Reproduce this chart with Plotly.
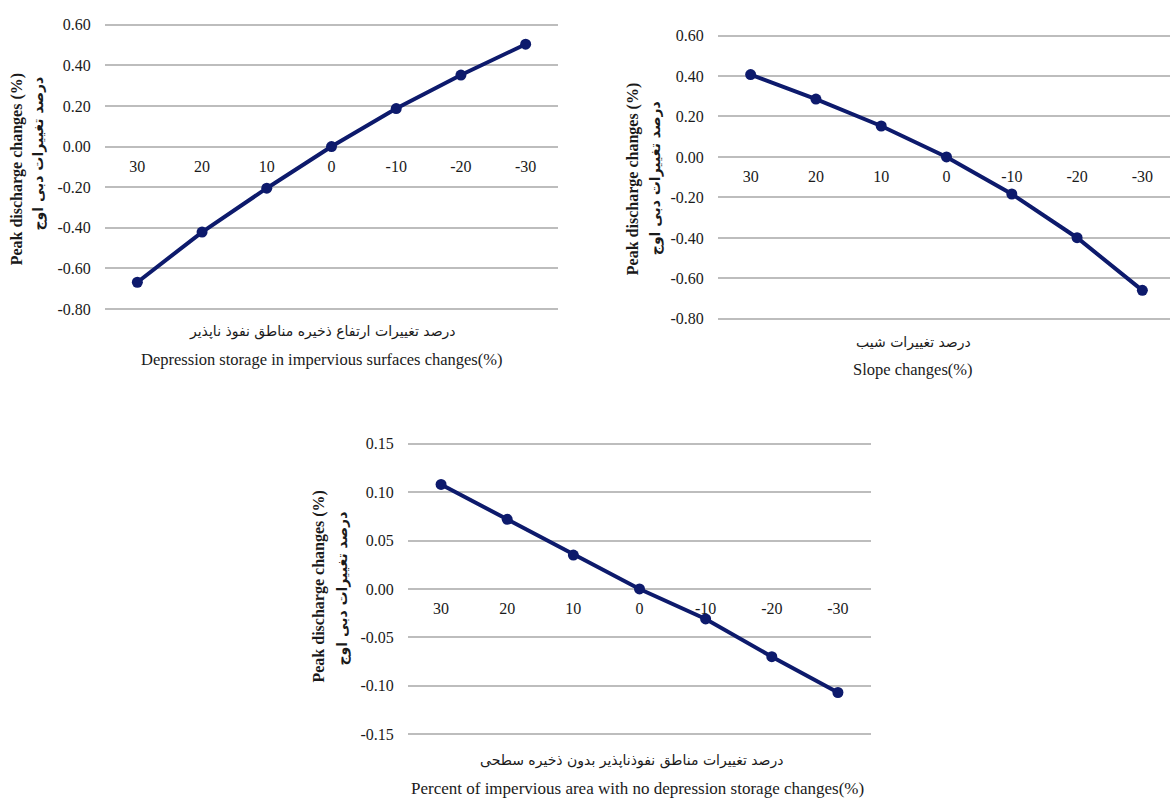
import plotly.graph_objects as go

# ---------------- data ----------------
categories = ["30", "20", "10", "0", "-10", "-20", "-30"]

depression_storage = [-0.668, -0.421, -0.205, 0.0, 0.187, 0.352, 0.504]
slope = [0.407, 0.286, 0.153, 0.0, -0.183, -0.399, -0.659]
impervious_no_ds = [0.108, 0.072, 0.035, 0.0, -0.031, -0.070, -0.107]

y1_ticks = [0.6, 0.4, 0.2, 0.0, -0.2, -0.4, -0.6, -0.8]
y1_labels = ["0.60", "0.40", "0.20", "0.00", "-0.20", "-0.40", "-0.60", "-0.80"]
y3_ticks = [0.15, 0.10, 0.05, 0.0, -0.05, -0.10, -0.15]
y3_labels = ["0.15", "0.10", "0.05", "0.00", "-0.05", "-0.10", "-0.15"]

ytitle_en = "Peak discharge changes (%)"
ytitle_fa = "درصد تغییرات دبی اوج"
xt1_fa = "درصد تغییرات ارتفاع ذخیره مناطق نفوذ ناپذیر"
xt1_en = "Depression storage in impervious surfaces changes(%)"
xt2_fa = "درصد تغییرات شیب"
xt2_en = "Slope changes(%)"
xt3_fa = "درصد تغییرات مناطق نفوذناپذیر بدون ذخیره سطحی"
xt3_en = "Percent of impervious area with no depression storage changes(%)"

# ---------------- style ----------------
W, H = 1170, 808
LINE = "#0d1a6c"
GRID = "#bdbdbd"
FONT = "Liberation Serif, Times New Roman, DejaVu Serif, serif"
FA_FONT = "DejaVu Sans, Noto Sans, sans-serif"
TXT = "#1a1a1a"

xpos = list(range(len(categories)))


def px_x(v):
    return v / W


def px_y(v):
    return 1 - v / H


fig = go.Figure()

PAD = 2  # px of breathing room so the edge gridlines are drawn

panels = [
    dict(vals=depression_storage, xa="x", ya="y", xdom=(105, 558), ydom=(19, 308),
         yr=(-0.8, 0.6), ticks=y1_ticks, labels=y1_labels, xr=(-0.5, 6.5)),
    dict(vals=slope, xa="x2", ya="y2", xdom=(718, 1170), ydom=(30, 318),
         yr=(-0.8, 0.6), ticks=y1_ticks, labels=y1_labels, xr=(-0.5, -0.5 + 7 * 452 / 457)),
    dict(vals=impervious_no_ds, xa="x3", ya="y3", xdom=(408, 871), ydom=(445, 740),
         yr=(-0.15, 0.15), ticks=y3_ticks, labels=y3_labels, xr=(-0.5, 6.5)),
]

layout_axes = {}
for i, p in enumerate(panels, start=1):
    fig.add_trace(go.Scatter(
        x=xpos, y=p["vals"], xaxis=p["xa"], yaxis=p["ya"],
        mode="lines+markers",
        line=dict(color=LINE, width=4),
        marker=dict(color=LINE, size=11),
        showlegend=False, hoverinfo="skip",
    ))
    suffix = "" if i == 1 else str(i)
    top_px, bot_px = p["ydom"][0] - PAD, p["ydom"][1] + PAD
    ymin, ymax = p["yr"]
    per_px = (ymax - ymin) / (p["ydom"][1] - p["ydom"][0])
    rmin, rmax = ymin - PAD * per_px, ymax + PAD * per_px
    y0p, y1p = px_y(bot_px), px_y(top_px)
    zero_pos = y0p + (0 - rmin) / (rmax - rmin) * (y1p - y0p)
    layout_axes["xaxis" + suffix] = dict(
        domain=[px_x(p["xdom"][0]), px_x(p["xdom"][1])],
        range=list(p["xr"]),
        anchor="free", position=zero_pos,
        tickmode="array", tickvals=xpos, ticktext=categories,
        ticks="outside", ticklen=5, tickcolor="rgba(0,0,0,0)",
        showgrid=False, zeroline=False, showline=False,
        tickfont=dict(family=FONT, size=16, color=TXT),
        fixedrange=True,
    )
    layout_axes["yaxis" + suffix] = dict(
        domain=[y0p, y1p],
        range=[rmin, rmax],
        anchor=p["xa"],
        tickmode="array", tickvals=p["ticks"], ticktext=p["labels"],
        ticks="outside", ticklen=10, tickcolor="rgba(0,0,0,0)",
        showgrid=True, gridcolor=GRID, gridwidth=1.6,
        zeroline=False, showline=False,
        tickfont=dict(family=FONT, size=16, color=TXT),
        fixedrange=True,
    )

fig.update_layout(**layout_axes)

annots = []


def add_text(text, x, y, size, bold=False, angle=0, font=FONT):
    t = f"<b>{text}</b>" if bold else text
    annots.append(dict(
        text=t, x=px_x(x), y=px_y(y), xref="paper", yref="paper",
        xanchor="center", yanchor="middle", showarrow=False,
        textangle=angle, font=dict(family=font, size=size, color=TXT),
    ))


# y-axis titles
add_text(ytitle_en, 17, 166, 16, bold=True, angle=-90)
add_text(ytitle_fa, 39, 150, 14, bold=True, angle=-90, font=FA_FONT)
add_text(ytitle_en, 633, 176, 16, bold=True, angle=-90)
add_text(ytitle_fa, 655, 175, 14, bold=True, angle=-90, font=FA_FONT)
add_text(ytitle_en, 319, 590, 16, bold=True, angle=-90)
add_text(ytitle_fa, 342, 592, 14, bold=True, angle=-90, font=FA_FONT)

# x-axis titles
add_text(xt1_fa, 322, 331, 14, font=FA_FONT)
add_text(xt1_en, 322, 359, 16.5)
add_text(xt2_fa, 913, 342, 14, font=FA_FONT)
add_text(xt2_en, 913, 369, 16.5)
add_text(xt3_fa, 632, 767, 14, font=FA_FONT)
add_text(xt3_en, 638, 795, 17)

fig.update_layout(
    width=W, height=H,
    margin=dict(l=0, r=0, t=0, b=0),
    paper_bgcolor="white", plot_bgcolor="white",
    annotations=annots,
    showlegend=False,
)

fig.write_html(
    "out.html",
    config={"displayModeBar": False},
    post_script="document.body.style.margin='0';document.body.style.overflow='hidden';",
)
